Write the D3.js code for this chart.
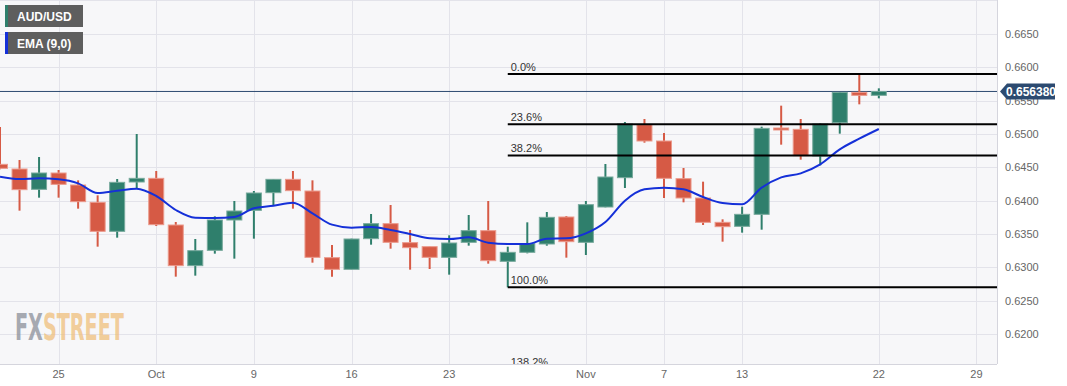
<!DOCTYPE html>
<html>
<head>
<meta charset="utf-8">
<script src="https://cdn.jsdelivr.net/npm/d3@7"></script>
<style>
  body { margin: 0; background: #fff; }
  svg { display: block; font-family: Arial, "Liberation Sans", sans-serif; }
</style>
</head>
<body>
<div id="root"></div>
<script>
const width = 1067
const height = 386
const plotW = 997
const plotH = 364

// trading day index 0 = Sep 20
const tickIdx = [3, 8, 13, 18, 23, 30, 34, 38, 45, 50]
const tickLabels = ['25', 'Oct', '9', '16', '23', 'Nov', '7', '13', '22', '29']
const priceTicks = [0.62, 0.625, 0.63, 0.635, 0.64, 0.645, 0.65, 0.655, 0.66, 0.665]

const open = [0.64545, 0.64475, 0.6417, 0.64415, 0.64235, 0.63975, 0.6354, 0.6428, 0.64335, 0.63635,
  0.63025, 0.63255, 0.6371, 0.63855, 0.6412, 0.6432, 0.64145, 0.63145, 0.6297, 0.6343,
  0.63655, 0.6337, 0.6331, 0.6315, 0.63375, 0.6355, 0.6309, 0.63225, 0.6335, 0.63755,
  0.63375, 0.63905, 0.64345, 0.6514, 0.64895, 0.6433, 0.6404, 0.63675, 0.63615, 0.63795,
  0.6509, 0.6507, 0.6467, 0.6517, 0.65625, 0.6558]
const high = [0.65105, 0.6461, 0.64655, 0.6446, 0.64305, 0.6408, 0.64325, 0.65, 0.64445, 0.6368,
  0.63425, 0.63765, 0.63995, 0.64145, 0.6432, 0.64445, 0.64305, 0.63335, 0.6343, 0.638,
  0.63935, 0.6356, 0.6331, 0.6348, 0.63785, 0.63995, 0.6331, 0.63675, 0.6383, 0.6377,
  0.63995, 0.6455, 0.6518, 0.65225, 0.65015, 0.6449, 0.64285, 0.6372, 0.6391, 0.6511,
  0.65425, 0.65225, 0.6516, 0.6563, 0.659, 0.65685]
const low = [0.6447, 0.6385, 0.64045, 0.64045, 0.6388, 0.6331, 0.63445, 0.64185, 0.6362, 0.6286,
  0.62875, 0.63205, 0.6313, 0.6343, 0.63935, 0.6388, 0.6307, 0.6286, 0.6297, 0.6334,
  0.6328, 0.62965, 0.62975, 0.6289, 0.63325, 0.63055, 0.627, 0.6321, 0.63325, 0.63145,
  0.63185, 0.639, 0.6419, 0.6487, 0.6404, 0.63975, 0.63635, 0.63385, 0.6352, 0.63565,
  0.6484, 0.64615, 0.6453, 0.65005, 0.65445, 0.65535]
const close = [0.64485, 0.64165, 0.64415, 0.64245, 0.63985, 0.6354, 0.64275, 0.64335, 0.6364, 0.63025,
  0.6325, 0.6371, 0.63845, 0.64115, 0.6432, 0.6415, 0.6315, 0.6297, 0.63425, 0.63655,
  0.63375, 0.63295, 0.6315, 0.63365, 0.6355, 0.631, 0.63225, 0.63355, 0.6375, 0.63385,
  0.6394, 0.64355, 0.6515, 0.64895, 0.64335, 0.6404, 0.63675, 0.6361, 0.63795, 0.65085,
  0.65075, 0.64675, 0.6515, 0.65625, 0.6558, 0.65638]
const ema = [0.6436, 0.64325, 0.64335, 0.6432, 0.6426, 0.64115, 0.6415, 0.6418, 0.6407, 0.6386,
  0.63745, 0.6374, 0.63755, 0.63885, 0.63925, 0.6397, 0.6381, 0.6364, 0.63595, 0.63605,
  0.6356, 0.635, 0.63435, 0.63425, 0.6345, 0.6337, 0.6335, 0.6335, 0.6343, 0.63435,
  0.6351, 0.6368, 0.64, 0.6417, 0.64195, 0.6417, 0.64055, 0.63965, 0.63945, 0.64195,
  0.6435, 0.6441, 0.64545, 0.6477, 0.6493, 0.65075]

// fibonacci retracement drawn from the swing low (idx 26) to the swing high (idx 44)
const fibLevels = [0, 0.236, 0.382, 1, 1.382]
const fibLabels = ['0.0%', '23.6%', '38.2%', '100.0%', '138.2%']
const fibHigh = 0.659
const fibLow = 0.627
const fibStart = 26
const lastPrice = 0.65638

const x = d3.scaleLinear().domain([0, 51]).range([0, 996])
const y = d3.scaleLinear().domain([0.6155, 0.6701]).range([plotH, 0])

const svg = d3.select('#root').append('svg').attr('width', width).attr('height', height)

svg.append('defs').append('clipPath').attr('id', 'plotclip')
  .append('rect').attr('width', plotW).attr('height', plotH)

svg.append('rect')
  .attr('width', plotW).attr('height', plotH)
  .attr('fill', '#f7f7f9')

// grid
const grid = svg.append('g').attr('stroke', '#e3e3ea').attr('stroke-width', 1)
grid.selectAll('line.h')
  .data(priceTicks)
  .join('line')
  .attr('class', 'h')
  .attr('x1', 0).attr('x2', plotW)
  .attr('y1', (d) => Math.round(y(d)) + 0.5).attr('y2', (d) => Math.round(y(d)) + 0.5)
grid.selectAll('line.v')
  .data(tickIdx)
  .join('line')
  .attr('class', 'v')
  .attr('x1', (d) => Math.round(x(d)) + 0.5).attr('x2', (d) => Math.round(x(d)) + 0.5)
  .attr('y1', 0).attr('y2', plotH)

// frame
svg.append('line').attr('x1', plotW + 0.5).attr('x2', plotW + 0.5).attr('y1', 0).attr('y2', plotH)
  .attr('stroke', '#d5d5dd')
svg.append('line').attr('x1', 0).attr('x2', plotW).attr('y1', plotH + 0.5).attr('y2', plotH + 0.5)
  .attr('stroke', '#d5d5dd')
svg.append('line').attr('x1', 0).attr('x2', plotW).attr('y1', 0.5).attr('y2', 0.5)
  .attr('stroke', '#e3e3ea')

// watermark: one text, squeezed to the logo width
const wm = svg.append('text')
  .attr('font-family', '"Liberation Sans Narrow", "DejaVu Sans Condensed", sans-serif')
  .attr('font-weight', 'bold')
  .attr('font-size', 37)
  .attr('opacity', 0.75)
wm.append('tspan').attr('fill', '#8b8f9a').text('FX')
wm.append('tspan').attr('fill', '#efbf7c').text('STREET')
const wmW = wm.node().getComputedTextLength()
wm.attr('transform', `translate(15, 340) scale(${109 / wmW}, 1)`)

const plot = svg.append('g').attr('clip-path', 'url(#plotclip)')

// last price line
plot.append('line')
  .attr('x1', 0).attr('x2', plotW)
  .attr('y1', y(lastPrice)).attr('y2', y(lastPrice))
  .attr('stroke', '#2c4a70').attr('stroke-width', 1)

// candles
const idx = d3.range(open.length)
const up = (i) => close[i] >= open[i]
const candle = plot.append('g')
  .selectAll('g.candle')
  .data(idx)
  .join('g')
  .attr('class', 'candle')

candle.append('line')
  .attr('x1', (i) => x(i)).attr('x2', (i) => x(i))
  .attr('y1', (i) => y(high[i])).attr('y2', (i) => y(low[i]))
  .attr('stroke', (i) => (up(i) ? '#2f7f6c' : '#d65a45'))
  .attr('stroke-width', 2)

candle.append('rect')
  .attr('x', (i) => x(i) - 7.5)
  .attr('width', 15)
  .attr('y', (i) => y(Math.max(open[i], close[i])))
  .attr('height', (i) => Math.max(2, Math.abs(y(open[i]) - y(close[i]))))
  .attr('fill', (i) => (up(i) ? '#2f7f6c' : '#d65a45'))
  .attr('stroke', (i) => (up(i) ? '#77a99c' : '#eb9a8c'))
  .attr('stroke-width', 1)

// EMA
const line = d3.line()
  .x((d, i) => x(i))
  .y((d) => y(d))
  .curve(d3.curveMonotoneX)
plot.append('path')
  .datum(ema)
  .attr('fill', 'none')
  .attr('stroke', '#1530d8')
  .attr('stroke-width', 2)
  .attr('d', line)

// fibonacci
const fib = plot.append('g')
  .selectAll('g.fib')
  .data(fibLevels)
  .join('g')
  .attr('class', 'fib')
const fibY = (l) => y(fibHigh - l * (fibHigh - fibLow))
fib.append('line')
  .attr('x1', x(fibStart)).attr('x2', plotW)
  .attr('y1', fibY).attr('y2', fibY)
  .attr('stroke', '#000').attr('stroke-width', 2)
fib.append('text')
  .attr('x', x(fibStart) + 3)
  .attr('y', (l) => fibY(l) - 3)
  .attr('font-size', 11)
  .attr('fill', '#333')
  .text((l, i) => fibLabels[i])

// y axis labels
svg.append('g')
  .selectAll('text')
  .data(priceTicks)
  .join('text')
  .attr('x', 1005)
  .attr('y', (d) => y(d) + 4)
  .attr('font-size', 11)
  .attr('fill', '#666')
  .text((d) => d.toFixed(4))

// x axis labels
svg.append('g')
  .selectAll('text')
  .data(tickIdx)
  .join('text')
  .attr('x', (d) => x(d))
  .attr('y', 378)
  .attr('text-anchor', 'middle')
  .attr('font-size', 11)
  .attr('fill', '#666')
  .text((d, i) => tickLabels[i])

// last price tag
const ty = y(lastPrice)
svg.append('path')
  .attr('d', `M${plotW + 3},${ty} L${plotW + 10},${ty - 8} L${plotW + 58},${ty - 8} L${plotW + 58},${ty + 8} L${plotW + 10},${ty + 8} Z`)
  .attr('fill', '#2c4a70')
svg.append('text')
  .attr('x', plotW + 34).attr('y', ty + 4.5)
  .attr('text-anchor', 'middle')
  .attr('font-size', 12)
  .attr('font-weight', 'bold')
  .attr('fill', '#fff')
  .text(lastPrice.toFixed(6))

// legend
const legend = [
  { label: 'AUD/USD', color: '#2f7f6c' },
  { label: 'EMA (9,0)', color: '#1530d8' },
]
const lg = svg.append('g')
  .selectAll('g')
  .data(legend)
  .join('g')
  .attr('transform', (d, i) => `translate(5, ${5 + i * 27})`)
lg.append('rect').attr('width', 78).attr('height', 22).attr('fill', '#5e5e5e')
lg.append('rect').attr('width', 3).attr('height', 22).attr('fill', (d) => d.color)
lg.append('text')
  .attr('x', 12).attr('y', 15.5)
  .attr('font-size', 12)
  .attr('font-weight', 'bold')
  .attr('fill', '#fff')
  .text((d) => d.label)
</script>
</body>
</html>
